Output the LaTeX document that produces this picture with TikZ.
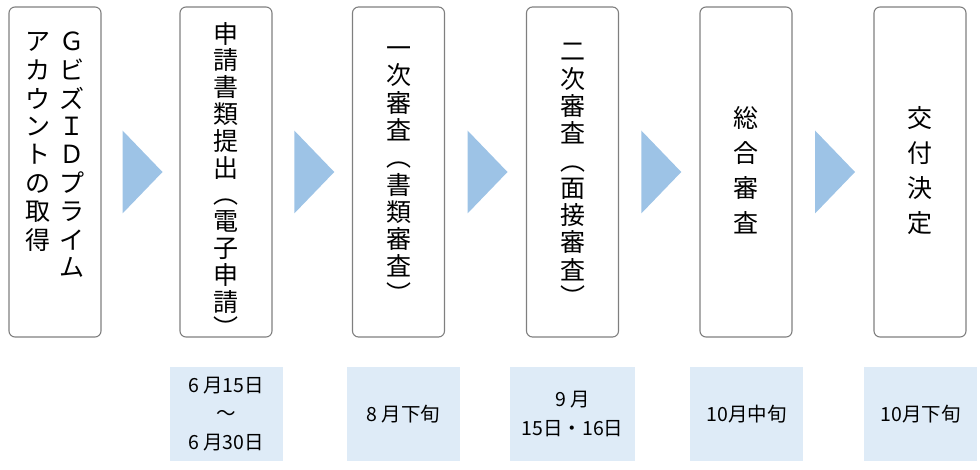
\documentclass[tikz,border=0pt]{standalone}
\usepackage{fontspec}
\setmainfont{Noto Sans CJK JP}
\usetikzlibrary{calc, positioning}

\definecolor{boxgray}{RGB}{127,127,127}
\definecolor{arrowblue}{RGB}{157,195,230}
\definecolor{datefill}{RGB}{222,235,247}

\tikzset{
  stepbox/.style={draw=boxgray, line width=1.1pt, rounded corners=6pt,
    minimum width=92pt, minimum height=330pt, inner sep=0pt},
  vtext/.style={align=center, inner sep=0pt, font=\fontsize{25}{27.3}\selectfont},
  datebox/.style={fill=datefill, minimum width=113pt, minimum height=94pt,
    align=center, inner sep=0pt, font=\fontsize{19.5}{28.5}\selectfont},
  arrowfill/.style={fill=arrowblue}
}

\begin{document}
\begin{tikzpicture}[x=1pt, y=1pt]

\useasboundingbox (0,0) rectangle (980,469);

% The six steps
\node[stepbox] (s1) at (55,297) {};
\node[stepbox] (s2) at (226,297) {};
\node[stepbox] (s3) at (398.5,297) {};
\node[stepbox] (s4) at (572.5,297) {};
\node[stepbox] (s5) at (746,297) {};
\node[stepbox] (s6) at (920,297) {};

% Vertical texts of the steps
\node[inner sep=0pt, font=\fontsize{25}{27.3}\selectfont] (t1) at (55,311)
  {\begin{tabular}{@{}c@{\hspace{9pt}}c@{}}
   ア & Ｇ\\ カ & ビ\\ ウ & ズ\\ ン & Ｉ\\ ト & Ｄ\\
   の & プ\\ 取 & ラ\\ 得 & イ\\    & ム
   \end{tabular}};
\node[vtext, font=\fontsize{25}{26.8}\selectfont] (t2) at (226,289)
  {申\\請\\書\\類\\提\\出\\︵\\電\\子\\申\\請\\︶};
\node[vtext] (t3) at (398.5,294)
  {一\\次\\審\\査\\︵\\書\\類\\審\\査\\︶};
\node[vtext] (t4) at (572.5,294)
  {二\\次\\審\\査\\︵\\面\\接\\審\\査\\︶};
\node[vtext, font=\fontsize{25}{35}\selectfont] (t5) at (746,299)
  {総\\合\\審\\査};
\node[vtext, font=\fontsize{25}{35}\selectfont] (t6) at (920,298)
  {交\\付\\決\\定};

% Arrow heads between the steps
\coordinate (m1) at ($(s1.east)!0.5!(s2.west)$);
\coordinate (m2) at ($(s2.east)!0.5!(s3.west)$);
\coordinate (m3) at ($(s3.east)!0.5!(s4.west)$);
\coordinate (m4) at ($(s4.east)!0.5!(s5.west)$);
\coordinate (m5) at ($(s5.east)!0.5!(s6.west)$);
\fill[arrowfill] ($(m1)+(-18,41.5)$) -- ($(m1)+(22,0)$) -- ($(m1)+(-18,-41.5)$) -- cycle;
\fill[arrowfill] ($(m2)+(-18,41.5)$) -- ($(m2)+(22,0)$) -- ($(m2)+(-18,-41.5)$) -- cycle;
\fill[arrowfill] ($(m3)+(-18,41.5)$) -- ($(m3)+(22,0)$) -- ($(m3)+(-18,-41.5)$) -- cycle;
\fill[arrowfill] ($(m4)+(-18,41.5)$) -- ($(m4)+(22,0)$) -- ($(m4)+(-18,-41.5)$) -- cycle;
\fill[arrowfill] ($(m5)+(-18,41.5)$) -- ($(m5)+(22,0)$) -- ($(m5)+(-18,-41.5)$) -- cycle;

% Dates under the steps
\node[datebox] (d2) at (226,55) {6 月15日\\～\\6 月30日};
\node[datebox] (d3) at (403.5,55) {8 月下旬};
\node[datebox, minimum width=125pt] (d4) at (572.5,55) {9 月\\15日・16日};
\node[datebox] (d5) at (746.5,55) {10月中旬};
\node[datebox] (d6) at (920.5,55) {10月下旬};

\end{tikzpicture}
\end{document}
